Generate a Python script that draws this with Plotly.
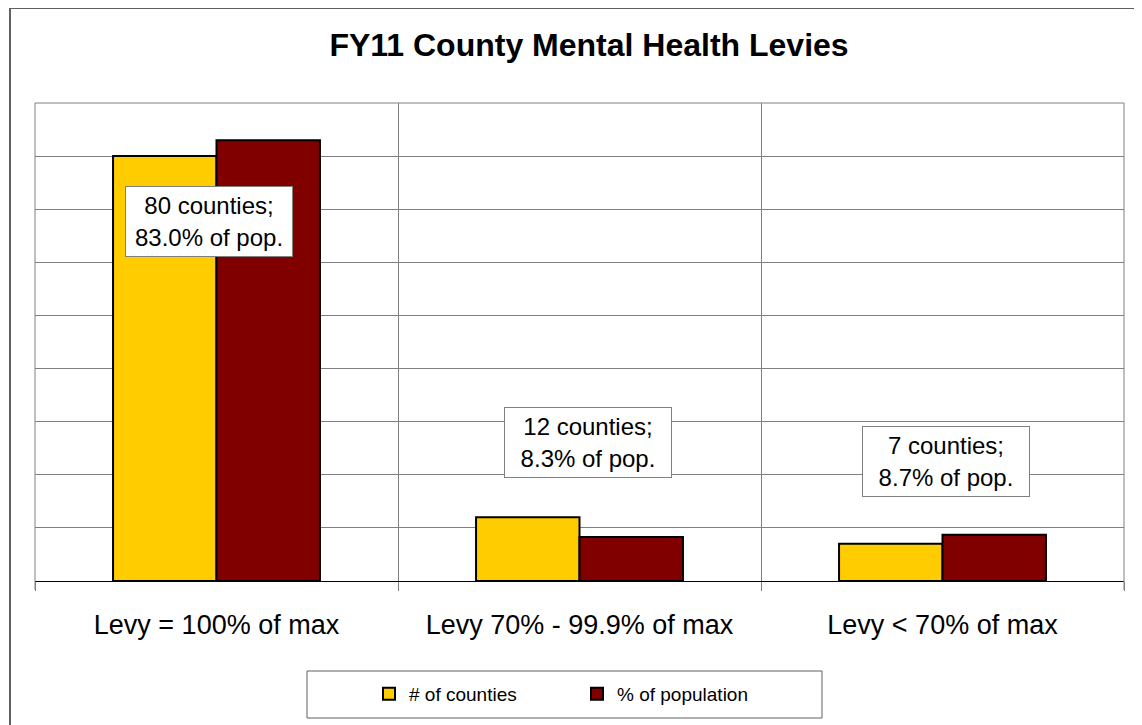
import plotly.graph_objects as go

categories = ["Levy = 100% of max", "Levy 70% - 99.9% of max", "Levy < 70% of max"]
num_counties = [80, 12, 7]
pct_population = [83.0, 8.3, 8.7]
label_texts = ["80 counties;<br>83.0% of pop.", "12 counties;<br>8.3% of pop.", "7 counties;<br>8.7% of pop."]
label_y = [67.6, 26.0, 22.5]
label_xshift = [-8, 8, 3]

# page offset of the plot div (default body margin)
OFF = 8
PL, PR, PT, PB = 35, 1124, 103, 581   # plot area in page pixels
PW, PH = PR - PL, PB - PT

def px_x(x):
    return (x - PL) / PW

def px_y(y):
    return (PB - y) / PH

FONT = "Arial, Liberation Sans, sans-serif"

fig = go.Figure()
fig.add_trace(go.Bar(x=categories, y=num_counties, name="# of counties",
                     marker=dict(color="#FFCC00", line=dict(color="black", width=2))))
fig.add_trace(go.Bar(x=categories, y=pct_population, name="% of population",
                     marker=dict(color="#800000", line=dict(color="black", width=2))))

for c, t, yv, xs in zip(categories, label_texts, label_y, label_xshift):
    fig.add_annotation(x=c, y=yv, text=t, showarrow=False, xshift=xs,
                       font=dict(family=FONT, size=24, color="black"),
                       width=160, height=63, align="center", valign="middle",
                       bgcolor="white", bordercolor="#808080", borderwidth=1, borderpad=3)

# outer chart border
fig.add_shape(type="rect", xref="paper", yref="paper", x0=px_x(10), x1=px_x(1170),
              y0=px_y(760), y1=px_y(8),
              line=dict(color="#606060", width=2), fillcolor="rgba(0,0,0,0)", layer="below")
# plot area edges (top, left, right)
fig.add_shape(type="line", xref="paper", yref="paper", x0=0, x1=1, y0=1, y1=1,
              line=dict(color="#808080", width=1))
fig.add_shape(type="line", xref="paper", yref="paper", x0=0, x1=0, y0=px_y(590), y1=1,
              line=dict(color="#808080", width=1))
fig.add_shape(type="line", xref="paper", yref="paper", x0=1, x1=1, y0=px_y(590), y1=1,
              line=dict(color="#808080", width=1))
# legend box
fig.add_shape(type="rect", xref="paper", yref="paper",
              x0=px_x(307), x1=px_x(822), y0=px_y(718), y1=px_y(671),
              line=dict(color="#606060", width=1), fillcolor="white", layer="below")

fig.update_layout(
    width=1142, height=725,
    margin=dict(l=PL - OFF, r=1142 - PR + OFF, t=PT - OFF, b=725 - PB + OFF),
    paper_bgcolor="white", plot_bgcolor="white",
    barmode="group", bargap=0.43, bargroupgap=0,
    title=dict(text="<b>FY11 County Mental Health Levies</b>", x=(589 - OFF) / 1142, xanchor="center",
               y=1 - (45 - OFF) / 725, yanchor="middle",
               font=dict(family=FONT, size=32, color="black")),
    font=dict(family=FONT, color="black"),
    showlegend=True,
    legend=dict(orientation="h", x=px_x(369), xanchor="left", y=px_y(694), yanchor="middle",
                bgcolor="rgba(0,0,0,0)", borderwidth=0, font=dict(size=19),
                entrywidth=163, entrywidthmode="pixels", traceorder="normal"),
    xaxis=dict(showgrid=True, gridcolor="#808080", gridwidth=1, tickson="boundaries",
               ticks="outside", ticklen=9, tickcolor="#808080",
               showline=True, linecolor="black", linewidth=1,
               tickfont=dict(size=27), ticklabelstandoff=20, fixedrange=True),
    yaxis=dict(range=[0, 90], dtick=10, showgrid=True, gridcolor="#808080", gridwidth=1,
               showticklabels=False, zeroline=False, showline=False, fixedrange=True),
)

fig.write_html("out.html")
